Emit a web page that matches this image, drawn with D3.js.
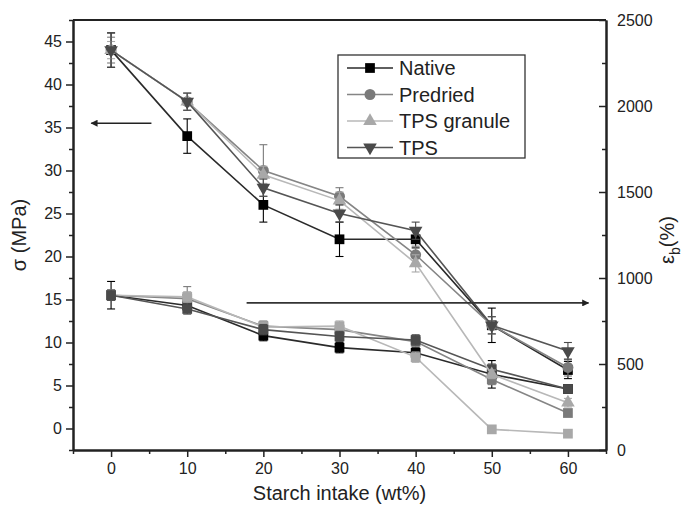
<!DOCTYPE html>
<html>
<head>
<meta charset="utf-8">
<title>Starch intake</title>
<script src="https://cdn.jsdelivr.net/npm/d3@7"></script>
<style>
  body { margin: 0; background: #fff; }
  text { font-family: "Liberation Sans", Arial, sans-serif; fill: #222; }
</style>
</head>
<body>
<script>
// starch content (wt%)
var intake = [0, 10, 20, 30, 40, 50, 60];
var seriesNames = ["Native", "Predried", "TPS granule", "TPS"];

// tensile strength sigma (MPa), left axis
var sigmaNative   = [44, 34, 26, 22, 22, 12, 6.8];
var sigmaPredried = [44, 38, 30, 27, 20.2, 12, 7.1];
var sigmaGranule  = [44, 38, 29.5, 26.5, 19.2, 6.3, 3];
var sigmaTPS      = [44, 38, 28, 25, 23, 12, 9];
var sigmaErrNative   = [2, 2, 2, 2, 1, 2, 1];
var sigmaErrPredried = [1.5, 1, 3, 1, 1, 1, 1];
var sigmaErrGranule  = [1, 1, 1, 1, 1, 0.5, 0.5];
var sigmaErrTPS      = [2, 1, 1, 1, 1, 1, 1];

// elongation at break eps_b (%), right axis
var epsNative   = [900, 840, 665, 595, 565, 440, 355];
var epsPredried = [900, 880, 720, 700, 630, 410, 215];
var epsGranule  = [900, 890, 715, 720, 540, 120, 95];
var epsTPS      = [900, 820, 700, 660, 640, 470, 355];
var epsErrNative   = [80, 30, 30, 30, 30, 80, 20];
var epsErrPredried = [30, 70, 30, 30, 30, 30, 20];
var epsErrGranule  = [30, 30, 30, 30, 30, 20, 20];
var epsErrTPS      = [30, 30, 30, 30, 30, 30, 20];

var xTicks = [0, 10, 20, 30, 40, 50, 60];
var leftTicks = [0, 5, 10, 15, 20, 25, 30, 35, 40, 45];
var rightTicks = [0, 500, 1000, 1500, 2000, 2500];

var markerColor = ["#000", "#7a7a7a", "#a8a8a8", "#4a4a4a"];
var lineColor = ["#2a2a2a", "#858585", "#b8b8b8", "#555"];
var shapes = [d3.symbolSquare, d3.symbolCircle, d3.symbolTriangle, d3.symbolTriangle];
var rotations = [0, 0, 0, 180];

var sigma = [sigmaNative, sigmaPredried, sigmaGranule, sigmaTPS];
var sigmaErr = [sigmaErrNative, sigmaErrPredried, sigmaErrGranule, sigmaErrTPS];
var eps = [epsNative, epsPredried, epsGranule, epsTPS];
var epsErr = [epsErrNative, epsErrPredried, epsErrGranule, epsErrTPS];

var svg_width = 683, svg_height = 513;
var margin = {top: 20, right: 77, bottom: 63, left: 73};
var width = svg_width - margin.left - margin.right;
var height = svg_height - margin.top - margin.bottom;

var svg = d3.select("body").append("svg")
  .attr("width", svg_width)
  .attr("height", svg_height);
var g = svg.append("g")
  .attr("transform", "translate(" + margin.left + "," + margin.top + ")");

var x = d3.scaleLinear().domain([-5, 65]).range([0, width]);
var yL = d3.scaleLinear().domain([-2.5, 47.5]).range([height, 0]);
var yR = d3.scaleLinear().domain([0, 2500]).range([height, 0]);

// axes
g.append("g")
  .attr("transform", "translate(0," + height + ")")
  .call(d3.axisBottom(x).tickValues(xTicks).tickSize(7).tickPadding(6).tickSizeOuter(0));
g.append("g")
  .attr("transform", "translate(0," + height + ")")
  .call(d3.axisBottom(x).tickValues([-5, 5, 15, 25, 35, 45, 55, 65]).tickSize(4).tickFormat("").tickSizeOuter(0));
g.append("g")
  .call(d3.axisLeft(yL).tickValues(leftTicks).tickSize(7).tickPadding(4).tickSizeOuter(0));
g.append("g")
  .call(d3.axisLeft(yL).tickValues(d3.range(-2.5, 47.6, 5)).tickSize(4).tickFormat("").tickSizeOuter(0));
g.append("g")
  .attr("transform", "translate(" + width + ",0)")
  .call(d3.axisRight(yR).tickValues(rightTicks).tickFormat(d3.format("d"))
    .tickSize(-7).tickPadding(11).tickSizeOuter(0));
g.append("g")
  .attr("transform", "translate(" + width + ",0)")
  .call(d3.axisRight(yR).tickValues(d3.range(250, 2500, 500)).tickSize(-4).tickFormat("").tickSizeOuter(0));
g.append("line")
  .attr("x1", 0).attr("x2", width).attr("y1", 0).attr("y2", 0)
  .attr("stroke", "#222").attr("stroke-width", 2);

g.selectAll(".domain").attr("stroke", "#222").attr("stroke-width", 2);
g.selectAll(".tick line").attr("stroke", "#222").attr("stroke-width", 1.5);
g.selectAll(".tick text").style("font-size", "16px")
  .style("font-family", "'Liberation Sans', Arial, sans-serif").attr("fill", "#222");

// series
function drawGroup(values, errs, yScale, useShapes) {
  for (var s = 0; s < values.length; s++) {
    var pts = intake.map(function(d, i) { return {x: d, y: values[s][i], e: errs[s][i]}; });
    g.append("path")
      .datum(pts)
      .attr("fill", "none")
      .attr("stroke", lineColor[s])
      .attr("stroke-width", 1.6)
      .attr("d", d3.line().x(function(d) { return x(d.x); }).y(function(d) { return yScale(d.y); }));
    var eb = g.append("g").attr("stroke", markerColor[s]).attr("stroke-width", 1.1);
    pts.forEach(function(d) {
      var y0 = yScale(d.y - d.e), y1 = yScale(d.y + d.e), cx = x(d.x);
      eb.append("line").attr("x1", cx).attr("x2", cx).attr("y1", y0).attr("y2", y1);
      eb.append("line").attr("x1", cx - 4).attr("x2", cx + 4).attr("y1", y0).attr("y2", y0);
      eb.append("line").attr("x1", cx - 4).attr("x2", cx + 4).attr("y1", y1).attr("y2", y1);
    });
    var shape = useShapes ? shapes[s] : d3.symbolSquare;
    var rot = useShapes ? rotations[s] : 0;
    g.append("g").selectAll("path")
      .data(pts)
      .enter().append("path")
      .attr("transform", function(d) {
        return "translate(" + x(d.x) + "," + yScale(d.y) + ") rotate(" + rot + ")";
      })
      .attr("d", d3.symbol().type(shape).size(shape === d3.symbolTriangle ? 80 : 95))
      .attr("fill", markerColor[s]);
  }
}
drawGroup(eps, epsErr, yR, false);
drawGroup(sigma, sigmaErr, yL, true);

// direction arrows
var defs = svg.append("defs");
defs.append("marker")
  .attr("id", "head").attr("viewBox", "0 0 10 10")
  .attr("refX", 9).attr("refY", 5)
  .attr("markerWidth", 12).attr("markerHeight", 7)
  .attr("markerUnits", "userSpaceOnUse")
  .attr("orient", "auto")
  .append("path").attr("d", "M0,0 L10,5 L0,10 Z").attr("fill", "#222");
g.append("line")
  .attr("x1", x(5.3)).attr("x2", x(-2.6))
  .attr("y1", yL(35.5)).attr("y2", yL(35.5))
  .attr("stroke", "#222").attr("stroke-width", 1.5)
  .attr("marker-end", "url(#head)");
g.append("line")
  .attr("x1", x(17.8)).attr("x2", x(62.7))
  .attr("y1", yR(855)).attr("y2", yR(855))
  .attr("stroke", "#333").attr("stroke-width", 1.8)
  .attr("marker-end", "url(#head)");

// legend
var legend = g.append("g").attr("transform", "translate(265,35)");
legend.append("rect")
  .attr("width", 187).attr("height", 103)
  .attr("fill", "#fff").attr("stroke", "#333").attr("stroke-width", 1.3);
seriesNames.forEach(function(name, i) {
  var ly = 13 + i * 26.5;
  legend.append("line").attr("x1", 9).attr("x2", 55).attr("y1", ly).attr("y2", ly)
    .attr("stroke", lineColor[i]).attr("stroke-width", 1.6);
  legend.append("path")
    .attr("transform", "translate(32," + ly + ") rotate(" + rotations[i] + ")")
    .attr("d", d3.symbol().type(shapes[i]).size(shapes[i] === d3.symbolTriangle ? 80 : 95))
    .attr("fill", markerColor[i]);
  legend.append("text").attr("x", 61).attr("y", ly + 7)
    .style("font-size", "20px").text(name);
});

// axis titles
svg.append("text")
  .attr("x", margin.left + width / 2).attr("y", 500)
  .attr("text-anchor", "middle").style("font-size", "20px")
  .text("Starch intake (wt%)");
svg.append("text")
  .attr("transform", "translate(26," + (margin.top + height / 2) + ") rotate(-90)")
  .attr("text-anchor", "middle").style("font-size", "20px")
  .text("σ (MPa)");
var rt = svg.append("text")
  .attr("transform", "translate(674,240) rotate(-90)")
  .attr("text-anchor", "middle").style("font-size", "20px");
rt.append("tspan").text("ε");
rt.append("tspan").attr("dy", 6).style("font-size", "14px").text("b");
rt.append("tspan").attr("dy", -6).text("(%)");
</script>
</body>
</html>
